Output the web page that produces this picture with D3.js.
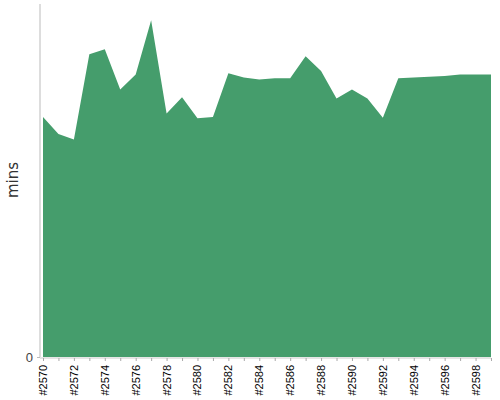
<!DOCTYPE html>
<html>
<head>
<meta charset="utf-8">
<script src="https://cdn.jsdelivr.net/npm/d3@7"></script>
<style>
  html, body { margin: 0; padding: 0; background: #fff; }
  svg { display: block; }
</style>
</head>
<body>
<svg id="chart" width="500" height="400"></svg>
<script>
const builds = d3.range(2570, 2600);
const minutes = [34.0, 31.6, 30.8, 42.9, 43.6, 37.9, 40.0, 47.7, 34.5, 36.8,
                 33.8, 34.0, 40.2, 39.6, 39.3, 39.5, 39.5, 42.6, 40.5, 36.6,
                 37.9, 36.6, 33.9, 39.5, 39.6, 39.7, 39.8, 40.0, 40.0, 40.0];
const yMax = 50;
const yTicks = [0];
const yLabel = "mins";

const svg = d3.select("#chart");
const x = d3.scaleLinear().domain([builds[0], builds[builds.length - 1]]).range([43, 491]);
const y = d3.scaleLinear().domain([0, yMax]).range([357, 4]);

const data = builds.map((b, i) => ({ b, v: minutes[i] }));

svg.append("path")
  .datum(data)
  .attr("fill", "#459d6c")
  .attr("d", d3.area().x(d => x(d.b)).y0(y(0)).y1(d => y(d.v)));

// y axis
const yAxis = svg.append("g").attr("transform", "translate(40,0)")
  .call(d3.axisLeft(y).tickValues(yTicks).tickSize(3).tickPadding(4));
yAxis.select(".domain").attr("stroke", "#bbb").attr("d", `M0,${y(yMax)}V${y(0)}`);
yAxis.selectAll(".tick line").attr("stroke", "#bbb");
yAxis.selectAll("text").attr("fill", "#444").style("font-family", "Liberation Sans, Arial, sans-serif").style("font-size", "13px");

// x axis
const xAxis = svg.append("g").attr("transform", `translate(0,${y(0) + 1})`)
  .call(d3.axisBottom(x).tickValues(builds).tickSize(3).tickFormat(""));
xAxis.select(".domain").attr("stroke", "#ccc").attr("d", `M40,0H491`);
xAxis.selectAll(".tick line").attr("stroke", "#aaa");

const labelBuilds = builds.filter(b => (b - 2570) % 2 === 0);
svg.append("g").selectAll("text")
  .data(labelBuilds)
  .join("text")
  .attr("transform", d => `translate(${x(d) + 4},365) rotate(-90)`)
  .attr("text-anchor", "end")
  .style("font-family", "Liberation Sans, Arial, sans-serif")
  .style("font-size", "11px")
  .attr("fill", "#000")
  .text(d => "#" + d);

svg.append("text")
  .attr("transform", "translate(18,180) rotate(-90)")
  .attr("text-anchor", "middle")
  .style("font-family", "DejaVu Sans, sans-serif")
  .style("font-size", "15px")
  .attr("fill", "#333")
  .text(yLabel);
</script>
</body>
</html>
